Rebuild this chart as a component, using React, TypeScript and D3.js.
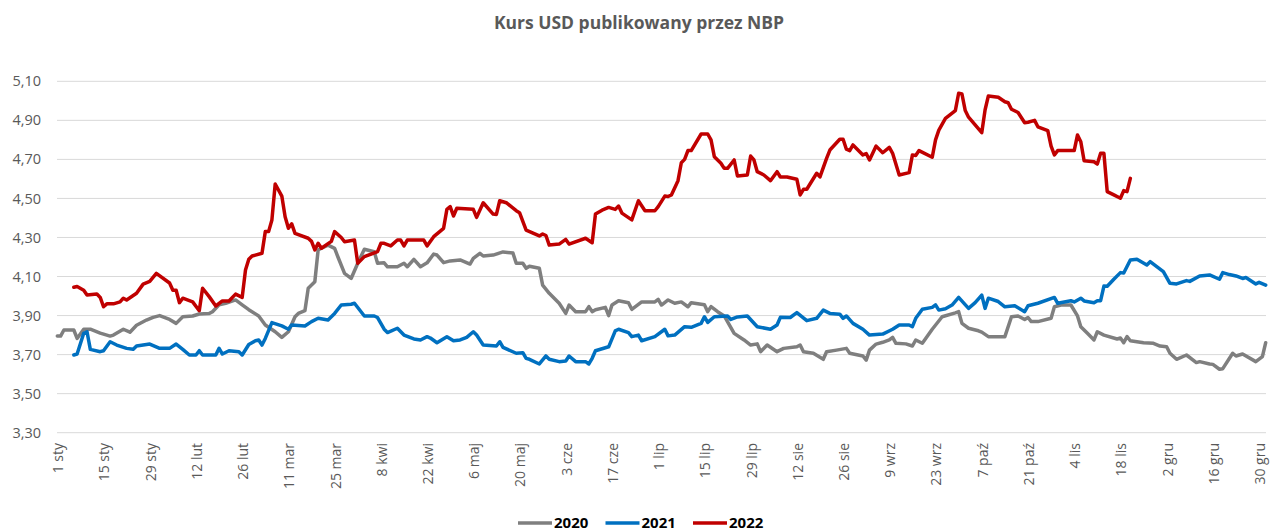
import * as d3 from "d3";

const title = "Kurs USD publikowany przez NBP";

// every 14th day of the year
const tickLabels = [
  "1 sty", "15 sty", "29 sty", "12 lut", "26 lut", "11 mar", "25 mar", "8 kwi", "22 kwi",
  "6 maj", "20 maj", "3 cze", "17 cze", "1 lip", "15 lip", "29 lip", "12 sie", "26 sie",
  "9 wrz", "23 wrz", "7 paź", "21 paź", "4 lis", "18 lis", "2 gru", "16 gru", "30 gru",
];

const yTicks = [3.3, 3.5, 3.7, 3.9, 4.1, 4.3, 4.5, 4.7, 4.9, 5.1];

// [day of year, PLN per USD]
const usd2020: [number, number][] = [
  [0, 3.795], [1, 3.795], [2, 3.826], [5, 3.826], [6, 3.783], [8, 3.83], [10, 3.83], [13, 3.81],
  [16, 3.795], [17, 3.8], [20, 3.83], [22, 3.815], [24, 3.85], [27, 3.877], [29, 3.891], [31, 3.9],
  [34, 3.88], [36, 3.86], [38, 3.894], [41, 3.898], [43, 3.908], [46, 3.91], [47, 3.92], [49, 3.955],
  [51, 3.963], [54, 3.98], [56, 3.955], [58, 3.93], [61, 3.898], [63, 3.852], [66, 3.817], [68, 3.788],
  [70, 3.817], [72, 3.894], [73, 3.911], [75, 3.925], [76, 4.04], [78, 4.073], [79, 4.236], [80, 4.245],
  [82, 4.261], [84, 4.244], [85, 4.2], [87, 4.116], [89, 4.09], [91, 4.168], [93, 4.24], [96, 4.227],
  [97, 4.168], [99, 4.17], [100, 4.15], [103, 4.15], [105, 4.168], [106, 4.15], [108, 4.188], [110, 4.15],
  [112, 4.17], [114, 4.215], [115, 4.21], [117, 4.171], [119, 4.18], [122, 4.185], [125, 4.164],
  [126, 4.193], [128, 4.219], [129, 4.205], [132, 4.21], [135, 4.226], [138, 4.22], [139, 4.168],
  [141, 4.168], [142, 4.142], [143, 4.153], [146, 4.142], [147, 4.056], [149, 4.014], [152, 3.963],
  [154, 3.911], [155, 3.954], [157, 3.92], [160, 3.92], [161, 3.946], [162, 3.92], [163, 3.93],
  [166, 3.942], [167, 3.9], [168, 3.954], [170, 3.976], [173, 3.966], [174, 3.932], [177, 3.97],
  [181, 3.97], [182, 3.983], [183, 3.954], [185, 3.98], [187, 3.963], [189, 3.97], [191, 3.945],
  [192, 3.966], [195, 3.958], [196, 3.955], [197, 3.92], [198, 3.946], [200, 3.92], [202, 3.898],
  [205, 3.809], [208, 3.775], [210, 3.749], [212, 3.755], [213, 3.715], [215, 3.749], [218, 3.715],
  [220, 3.732], [224, 3.74], [225, 3.749], [226, 3.715], [229, 3.707], [232, 3.676], [233, 3.715],
  [236, 3.723], [239, 3.732], [240, 3.707], [244, 3.693], [245, 3.672], [246, 3.723], [248, 3.754],
  [250, 3.763], [252, 3.775], [253, 3.788], [254, 3.758], [257, 3.755], [259, 3.744], [260, 3.775],
  [262, 3.758], [265, 3.83], [268, 3.894], [272, 3.914], [273, 3.92], [274, 3.86], [276, 3.835],
  [279, 3.822], [280, 3.815], [282, 3.792], [287, 3.792], [289, 3.894], [291, 3.898], [293, 3.88],
  [294, 3.89], [295, 3.869], [297, 3.869], [301, 3.886], [302, 3.945], [304, 3.954], [307, 3.954],
  [309, 3.898], [310, 3.843], [312, 3.809], [314, 3.775], [315, 3.817], [317, 3.8], [321, 3.78],
  [322, 3.785], [323, 3.761], [324, 3.792], [325, 3.771], [329, 3.761], [332, 3.758], [334, 3.744],
  [336, 3.74], [337, 3.707], [339, 3.676], [342, 3.698], [345, 3.659], [346, 3.664], [349, 3.652],
  [350, 3.65], [352, 3.625], [353, 3.628], [356, 3.707], [357, 3.693], [359, 3.703], [363, 3.664],
  [365, 3.69], [366, 3.761],
];

const usd2021: [number, number][] = [
  [5, 3.698], [6, 3.703], [8, 3.809], [9, 3.817], [10, 3.727], [13, 3.715], [14, 3.72], [16, 3.766],
  [18, 3.749], [21, 3.732], [23, 3.727], [24, 3.744], [28, 3.754], [31, 3.732], [34, 3.732], [36, 3.754],
  [38, 3.727], [40, 3.698], [42, 3.698], [43, 3.72], [44, 3.698], [48, 3.698], [49, 3.732], [50, 3.703],
  [52, 3.72], [55, 3.715], [56, 3.698], [58, 3.752], [60, 3.771], [61, 3.775], [62, 3.749], [63, 3.783],
  [65, 3.864], [68, 3.847], [70, 3.83], [71, 3.852], [75, 3.847], [77, 3.869], [79, 3.886], [82, 3.877],
  [84, 3.911], [86, 3.954], [89, 3.958], [90, 3.963], [93, 3.898], [96, 3.898], [97, 3.89], [99, 3.83],
  [100, 3.813], [103, 3.835], [105, 3.8], [108, 3.78], [110, 3.775], [112, 3.792], [113, 3.785],
  [115, 3.761], [118, 3.792], [120, 3.771], [122, 3.775], [124, 3.788], [126, 3.817], [127, 3.8],
  [129, 3.749], [133, 3.744], [134, 3.766], [135, 3.737], [139, 3.707], [141, 3.71], [142, 3.681],
  [143, 3.676], [146, 3.652], [148, 3.693], [149, 3.676], [152, 3.664], [154, 3.667], [155, 3.693],
  [157, 3.664], [160, 3.664], [161, 3.652], [162, 3.681], [163, 3.72], [167, 3.74], [169, 3.822],
  [170, 3.83], [173, 3.813], [174, 3.792], [176, 3.8], [177, 3.771], [181, 3.792], [184, 3.83],
  [185, 3.796], [187, 3.8], [190, 3.843], [192, 3.84], [195, 3.86], [196, 3.894], [197, 3.865],
  [199, 3.894], [203, 3.898], [204, 3.88], [206, 3.893], [209, 3.898], [212, 3.843], [216, 3.83],
  [218, 3.852], [219, 3.891], [222, 3.89], [224, 3.915], [227, 3.874], [230, 3.886], [232, 3.928],
  [234, 3.911], [237, 3.907], [238, 3.886], [239, 3.898], [241, 3.86], [244, 3.83], [246, 3.8],
  [250, 3.805], [253, 3.83], [255, 3.852], [258, 3.852], [259, 3.843], [260, 3.886], [262, 3.932],
  [265, 3.942], [266, 3.955], [267, 3.928], [269, 3.935], [271, 3.954], [273, 3.993], [276, 3.937],
  [278, 3.966], [280, 4.005], [281, 3.937], [282, 3.989], [285, 3.972], [287, 3.945], [290, 3.95],
  [293, 3.92], [294, 3.95], [297, 3.963], [302, 3.993], [303, 3.963], [307, 3.976], [308, 3.97],
  [310, 3.989], [311, 3.975], [314, 3.966], [315, 3.976], [316, 3.976], [317, 4.051], [318, 4.05],
  [320, 4.086], [322, 4.12], [323, 4.118], [325, 4.185], [327, 4.188], [330, 4.159], [331, 4.176],
  [335, 4.125], [337, 4.065], [339, 4.062], [342, 4.079], [343, 4.075], [346, 4.103], [349, 4.108],
  [352, 4.086], [353, 4.12], [355, 4.11], [357, 4.103], [359, 4.09], [360, 4.095], [363, 4.062],
  [364, 4.07], [366, 4.056],
];

const usd2022: [number, number][] = [
  [5, 4.045], [6, 4.049], [8, 4.03], [9, 4.005], [12, 4.01], [13, 3.993], [14, 3.945], [15, 3.96],
  [17, 3.96], [19, 3.97], [20, 3.989], [21, 3.98], [24, 4.014], [26, 4.061], [28, 4.075], [30, 4.116],
  [34, 4.067], [35, 4.03], [36, 4.03], [37, 3.966], [38, 3.989], [41, 3.97], [43, 3.925], [44, 4.04],
  [46, 3.997], [48, 3.949], [50, 3.975], [52, 3.975], [54, 4.01], [56, 3.993], [57, 4.133], [58, 4.188],
  [59, 4.205], [62, 4.219], [63, 4.33], [64, 4.33], [65, 4.39], [66, 4.574], [68, 4.512], [69, 4.406],
  [70, 4.347], [71, 4.37], [72, 4.321], [76, 4.296], [77, 4.28], [78, 4.236], [79, 4.27], [80, 4.245],
  [83, 4.28], [84, 4.33], [86, 4.3], [87, 4.278], [90, 4.287], [91, 4.168], [93, 4.202], [97, 4.227],
  [98, 4.27], [99, 4.27], [101, 4.257], [103, 4.287], [104, 4.287], [105, 4.257], [106, 4.287],
  [111, 4.287], [112, 4.257], [114, 4.304], [117, 4.347], [118, 4.444], [119, 4.458], [120, 4.41],
  [121, 4.45], [126, 4.444], [127, 4.403], [129, 4.478], [132, 4.42], [133, 4.418], [134, 4.488],
  [136, 4.478], [139, 4.437], [140, 4.427], [142, 4.338], [146, 4.308], [147, 4.318], [148, 4.31],
  [149, 4.261], [152, 4.266], [154, 4.29], [155, 4.266], [160, 4.296], [162, 4.273], [163, 4.42],
  [165, 4.44], [167, 4.454], [169, 4.444], [170, 4.461], [171, 4.425], [174, 4.39], [176, 4.488],
  [178, 4.437], [181, 4.437], [182, 4.458], [184, 4.512], [185, 4.51], [186, 4.518], [188, 4.591],
  [189, 4.683], [190, 4.7], [191, 4.745], [192, 4.745], [195, 4.83], [197, 4.83], [198, 4.8],
  [199, 4.714], [201, 4.68], [202, 4.654], [203, 4.654], [205, 4.697], [206, 4.615], [209, 4.62],
  [210, 4.717], [211, 4.697], [212, 4.637], [214, 4.62], [216, 4.591], [218, 4.637], [219, 4.61],
  [221, 4.61], [224, 4.598], [225, 4.518], [226, 4.547], [227, 4.547], [230, 4.629], [231, 4.61],
  [233, 4.705], [234, 4.748], [237, 4.803], [238, 4.803], [239, 4.752], [240, 4.745], [241, 4.774],
  [244, 4.723], [245, 4.73], [246, 4.697], [248, 4.768], [250, 4.734], [252, 4.762], [253, 4.731],
  [255, 4.62], [258, 4.632], [259, 4.723], [260, 4.72], [261, 4.745], [265, 4.711], [266, 4.8],
  [267, 4.85], [269, 4.91], [272, 4.95], [273, 5.039], [274, 5.035], [275, 4.95], [276, 4.916],
  [280, 4.837], [281, 4.953], [282, 5.025], [285, 5.018], [287, 4.995], [288, 4.99], [289, 4.957],
  [291, 4.94], [293, 4.888], [294, 4.89], [296, 4.9], [297, 4.867], [300, 4.847], [301, 4.768],
  [302, 4.723], [303, 4.745], [308, 4.745], [309, 4.825], [310, 4.79], [311, 4.693], [314, 4.688],
  [315, 4.676], [316, 4.731], [317, 4.731], [318, 4.535], [320, 4.518], [322, 4.501], [323, 4.54],
  [324, 4.535], [325, 4.603],
];

const series = [
  { name: "2020", color: "#7f7f7f", data: usd2020 },
  { name: "2021", color: "#0070c0", data: usd2021 },
  { name: "2022", color: "#c00000", data: usd2022 },
];

const W = 1270;
const H = 531;
const font = "'Open Sans', 'Noto Sans', sans-serif";

export default function App() {
  const x = d3.scaleLinear().domain([0, 366]).range([57.3, 1265.7]);
  const y = d3.scaleLinear().domain([3.3, 5.1]).range([432.7, 81.3]);
  const line = d3
    .line<[number, number]>()
    .x((d) => x(d[0]))
    .y((d) => y(d[1]));
  const fmt = (v: number) => d3.format(".2f")(v).replace(".", ",");

  return (
    <div style={{ position: "absolute", left: 0, top: 0 }}>
      <svg width={W} height={H} style={{ display: "block", fontFamily: font }}>
        <rect width={W} height={H} fill="#fff" />
        <text x={639} y={29} textAnchor="middle" fontSize={17.5} fontWeight={700} fill="#595959">
          {title}
        </text>

        {/* grid + y labels */}
        <g>
          {yTicks.map((t) => (
            <g key={t}>
              <line x1={57} x2={1266} y1={y(t)} y2={y(t)} stroke="#d9d9d9" strokeWidth={1} />
              <text x={41} y={y(t)} dy="0.35em" textAnchor="end" fontSize={14.5} fill="#595959">
                {fmt(t)}
              </text>
            </g>
          ))}
        </g>

        {/* x labels */}
        <g>
          {tickLabels.map((lab, i) => (
            <text
              key={lab}
              transform={`translate(${x(i * 14) + 1},443) rotate(-90)`}
              dy="0.35em"
              textAnchor="end"
              fontSize={14}
              fill="#595959"
            >
              {lab}
            </text>
          ))}
        </g>

        {/* series */}
        <g fill="none" strokeWidth={3.5} strokeLinejoin="round" strokeLinecap="round">
          {series.map((s) => (
            <path key={s.name} d={line(s.data) ?? ""} stroke={s.color} />
          ))}
        </g>

        {/* legend */}
        <g>
          {series.map((s, i) => {
            const lx = 518 + i * 87.5;
            return (
              <g key={s.name}>
                <line x1={lx} x2={lx + 34} y1={523} y2={523} stroke={s.color} strokeWidth={3.5} />
                <text x={lx + 36} y={523} dy="0.36em" fontSize={15} fontWeight={700} fill="#000">
                  {s.name}
                </text>
              </g>
            );
          })}
        </g>
      </svg>
    </div>
  );
}
